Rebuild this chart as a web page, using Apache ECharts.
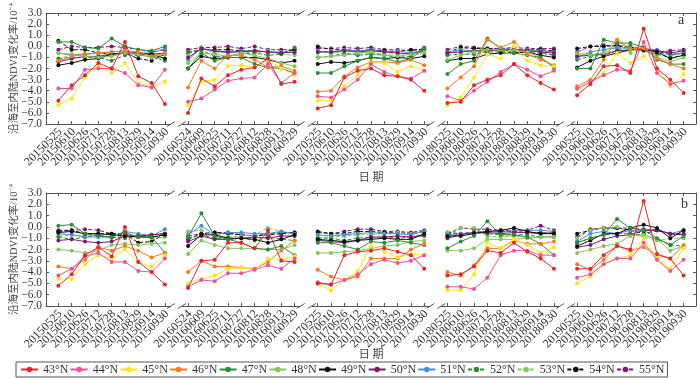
<!DOCTYPE html>
<html><head><meta charset="utf-8">
<script src="https://cdn.jsdelivr.net/npm/echarts@6/dist/echarts.min.js"></script>
<style>html,body{margin:0;padding:0;background:#fff}#c{width:700px;height:378px}</style>
</head><body><div id="c"></div>
<script>
// ---- tick labels (dates) ----
const d2015 = ['20150525','20150610','20150626','20150712','20150728','20150813','20150829','20150914','20150930'];
const d2016 = ['20160524','20160609','20160625','20160711','20160727','20160812','20160828','20160913','20160929'];
const d2017 = ['20170525','20170610','20170626','20170712','20170728','20170813','20170829','20170914','20170930'];
const d2018 = ['20180525','20180610','20180626','20180712','20180728','20180813','20180829','20180914','20180930'];
const d2019 = ['20190525','20190610','20190626','20190712','20190728','20190813','20190829','20190914','20190930'];
const latitudes = ['43°N','44°N','45°N','46°N','47°N','48°N','49°N','50°N','51°N','52°N','53°N','54°N','55°N'];
const yTicks = [-7, -6, -5, -4, -3, -2, -1, 0, 1, 2, 3];

// ---- panel a ----
const a43 = [-4.9,-3.5,-2.6,-1.5,-2.0,0.4,-2.7,-3.3,-5.2, -6.0,-2.9,-3.6,-2.6,-2.1,-1.9,-1.1,-3.4,-3.2, -5.6,-5.3,-2.8,-2.2,-2.0,-2.6,-2.7,-3.0,-4.0, -5.1,-5.0,-3.5,-3.0,-2.6,-1.6,-2.6,-3.3,-3.9, -4.4,-3.4,-1.8,-1.7,-2.4,1.6,-2.0,-3.0,-4.2];
const a44 = [-3.8,-3.8,-2.1,-2.0,-2.0,-2.4,-3.5,-3.7,-2.1, -5.0,-4.7,-3.9,-3.1,-2.9,-2.8,-1.6,-3.3,-2.4, -4.5,-4.6,-3.9,-3.0,-1.6,-2.3,-2.7,-2.9,-2.2, -4.5,-4.9,-4.0,-3.2,-2.3,-1.6,-2.1,-2.7,-2.2, -3.8,-3.2,-2.6,-2.1,-2.2,0.4,-2.4,-3.4,-3.1];
const a45 = [-5.3,-4.7,-2.8,-1.7,-2.4,-1.5,-3.3,-3.7,-3.2, -5.3,-3.2,-3.0,-1.8,-1.7,-1.9,-1.2,-2.0,-2.6, -4.9,-4.9,-3.6,-2.6,-1.5,-1.5,-2.3,-1.8,-2.2, -5.3,-4.6,-2.8,-0.7,-1.1,0.0,-1.3,-1.7,-1.8, -3.9,-3.2,-2.4,-0.6,-1.5,-0.9,-2.0,-3.6,-2.5];
const a46 = [-1.3,-0.9,-0.7,-0.6,-0.5,-0.4,-0.5,-0.9,-0.6, -3.7,-1.3,-2.0,-0.8,-0.8,-1.2,-1.9,-1.8,-2.2, -4.1,-4.0,-2.7,-1.9,-1.4,-1.4,-1.5,-1.2,-1.7, -3.8,-2.8,-1.8,0.6,-0.1,0.4,-0.7,-1.2,-1.7, -3.6,-3.0,-1.2,0.6,-0.2,-0.2,-1.1,-1.6,-2.0];
const a47 = [0.4,0.4,-0.1,-0.2,0.7,0.0,-0.3,-0.4,0.0, -2.0,-0.6,-1.3,-1.0,-1.0,-1.6,-1.9,-2.0,-2.4, -2.4,-2.4,-1.8,-1.3,-1.0,-1.1,-1.4,-1.1,-0.2, -2.5,-1.6,-1.3,0.7,-0.2,-0.6,-0.8,-1.0,-1.9, -2.0,-2.0,0.6,0.3,0.3,-0.1,-1.2,-1.6,-1.6];
const a48 = [-0.6,-0.7,-0.9,-1.0,-0.9,-0.6,-0.7,-1.0,-0.6, -1.5,-0.6,-0.7,-0.9,-0.6,-0.8,-1.1,-1.5,-1.8, -1.0,-0.9,-0.8,-0.6,-0.5,-0.8,-0.9,-0.7,-0.5, -1.2,-0.8,-0.5,-0.3,-0.3,-0.4,-0.5,-1.0,-1.8, -0.6,-0.8,-0.6,0.5,-0.4,-0.1,-1.0,-1.4,-1.0];
const a49 = [-1.7,-1.5,-1.2,-1.1,-0.7,-0.6,-0.7,-0.7,-1.1, -2.0,-0.9,-1.1,-1.0,-1.0,-1.0,-1.2,-1.5,-1.3, -1.6,-1.4,-1.5,-1.3,-1.0,-1.1,-1.0,-1.1,-0.9, -1.3,-1.1,-1.1,-0.7,-0.6,-0.6,-0.5,-0.8,-1.0, -1.9,-1.3,-0.9,-0.6,-0.3,-0.3,-0.5,-1.1,-0.8];
const a50 = [-1.4,-1.1,-0.9,-0.9,-0.7,-0.6,-0.6,-0.7,-0.6, -1.0,-0.2,-0.4,-0.5,-0.5,-0.4,-0.5,-0.6,-0.5, -0.5,-0.5,-0.4,-0.5,-0.4,-0.5,-0.6,-0.7,-0.4, -0.6,-0.5,-0.4,-0.4,-0.3,-0.3,-0.4,-0.5,-0.6, -0.9,-0.8,-0.7,-0.4,-0.3,-0.3,-0.4,-0.6,-0.4];
const a51 = [-0.6,-0.8,-0.7,-0.6,-0.5,-0.4,-0.6,-0.6,-0.2, -1.2,-0.2,-0.4,-0.6,-0.4,-0.4,-0.5,-0.5,-0.6, -0.4,-0.6,-0.3,-0.4,-0.3,-0.5,-0.4,-0.6,-0.3, -0.5,-0.3,-0.4,-0.3,-0.2,-0.3,-0.3,-0.4,-0.5, -1.0,-0.5,-0.3,-0.1,-0.2,-0.2,-0.3,-0.7,-0.6];
const a52 = [-1.1,-1.0,-1.0,-1.0,-1.3,-0.8,-0.8,-0.9,-1.3, -0.5,-0.3,-0.9,-0.9,-0.7,-0.6,-0.8,-0.7,-0.1, -1.0,-0.9,-0.6,-0.8,-0.7,-0.8,-1.0,-0.9,-0.1, -0.8,-0.7,-0.7,-0.5,-0.5,-0.5,-0.6,-0.6,-0.8, -1.2,-0.9,-0.8,-0.4,0.1,-0.4,-0.7,-1.0,-0.8];
const a53 = [-1.2,-0.7,-0.7,-0.6,-0.7,-0.6,-0.7,-1.0,-0.7, -0.7,-0.1,-0.6,-0.5,-0.5,-0.6,-0.4,-0.7,-0.8, -0.6,-0.4,-0.7,-0.6,-0.6,-0.7,-0.7,-0.6,-0.6, -0.6,-0.4,-0.5,-0.4,-0.4,-0.5,-0.4,-0.5,-0.8, -0.8,-0.7,-0.6,-0.1,-0.6,-0.4,-0.6,-0.8,-0.6];
const a54 = [0.5,-0.3,-0.3,-0.6,-0.7,-0.6,-1.1,-1.3,-0.7, -0.6,-0.3,-0.3,-0.3,-0.4,-0.4,-0.5,-0.6,-0.3, 0.0,-0.3,-0.3,-0.4,-0.3,-0.4,-0.5,-0.3,-0.3, -0.6,-0.1,-0.2,-0.2,-0.2,-0.3,-0.3,-0.3,-0.4, -0.2,0.0,0.0,0.1,-0.1,-0.3,-0.4,-0.8,-0.6];
const a55 = [-0.3,0.0,-0.1,-0.1,0.0,-0.1,-0.3,-0.5,-0.3, -0.3,-0.1,-0.1,0.0,-0.2,0.0,-0.3,-0.3,-0.3, -0.2,-0.2,-0.1,-0.2,-0.1,-0.3,-0.3,-0.4,-0.2, -0.3,0.0,-0.1,-0.2,-0.2,-0.1,-0.2,-0.2,-0.2, -0.5,0.0,0.1,0.0,-0.1,-0.2,-0.5,-0.4,-0.3];

// ---- panel b ----
const b43 = [-5.2,-4.2,-2.5,-1.8,-2.6,0.0,-3.1,-4.0,-5.1, -5.4,-3.0,-2.9,-1.4,-1.4,-1.9,-0.3,-3.0,-3.1, -5.0,-5.1,-2.5,-2.2,-2.1,-1.9,-2.2,-2.5,-3.7, -4.3,-4.2,-3.5,-2.1,-2.3,-1.4,-2.2,-2.8,-3.7, -3.7,-3.7,-2.5,-1.7,-2.0,2.3,-2.4,-2.8,-4.3];
const b44 = [-4.3,-3.7,-2.6,-2.3,-3.1,-3.1,-3.9,-4.0,-2.8, -5.3,-4.7,-4.8,-4.1,-4.1,-3.8,-3.4,-3.7,-2.8, -4.9,-5.1,-4.7,-4.2,-3.3,-2.9,-3.2,-3.0,-2.5, -5.3,-5.3,-5.5,-4.5,-2.5,-2.1,-2.1,-2.5,-2.5, -4.5,-4.2,-3.3,-2.8,-2.8,-1.4,-2.9,-3.9,-2.9];
const b45 = [-4.6,-4.6,-3.3,-2.5,-2.8,-2.0,-3.1,-3.5,-2.5, -5.0,-4.6,-4.3,-3.7,-3.6,-3.8,-2.8,-2.9,-2.6, -5.0,-5.6,-4.7,-3.9,-1.7,-2.2,-2.7,-2.4,-2.5, -5.6,-5.6,-4.2,-1.4,-1.9,-1.1,-1.6,-2.3,-1.8, -5.0,-4.4,-3.3,-2.8,-2.5,-1.0,-2.7,-3.7,-1.9];
const b46 = [-3.5,-3.7,-2.9,-1.8,-2.1,-1.7,-2.1,-2.7,-2.3, -4.0,-3.0,-3.5,-3.5,-3.6,-3.7,-3.1,-2.1,-1.2, -3.8,-4.4,-4.7,-4.4,-2.8,-2.8,-2.8,-2.0,-1.5, -4.0,-4.3,-3.4,-1.9,-1.9,-1.2,-1.5,-1.5,-1.3, -3.3,-3.8,-2.9,-1.7,-2.1,-1.8,-2.5,-2.8,-1.6];
const b47 = [0.1,0.2,-0.6,-0.8,-0.9,-0.5,-0.9,-0.9,-2.3, -0.9,1.2,-0.8,-1.1,-1.4,-1.9,-2.0,-1.7,-2.5, -1.4,-1.4,-1.7,-2.0,-1.3,-1.4,-1.2,-1.4,-1.6, -1.9,-1.3,-0.8,0.5,-0.7,-0.7,-0.9,-1.5,-2.5, -1.4,-1.0,-0.7,0.7,-0.1,-0.3,-1.0,-1.6,-0.8];
const b48 = [-2.0,-2.1,-2.3,-2.1,-1.6,-1.5,-1.6,-1.5,-1.4, -2.4,-1.2,-1.6,-1.9,-1.9,-1.9,-2.0,-2.0,-1.6, -2.3,-2.3,-2.2,-2.1,-1.9,-1.7,-1.6,-1.3,-1.2, -2.1,-2.1,-1.9,-1.1,-1.1,-1.1,-1.0,-0.9,-0.9, -2.3,-2.0,-1.7,-1.5,-0.8,-0.7,-1.1,-2.1,-1.7];
const b49 = [-0.5,-0.4,-0.6,-0.6,-0.7,-0.8,-0.9,-0.9,-0.7, -1.7,-0.7,-0.7,-1.0,-1.0,-1.1,-1.4,-1.1,-0.7, -1.1,-1.2,-1.3,-1.2,-1.1,-1.0,-1.1,-1.1,-0.6, -0.8,-0.8,-0.6,-0.4,-0.3,-0.1,-0.4,-0.6,-0.6, -1.7,-1.2,-0.6,-0.6,-0.1,0.2,-0.1,-1.0,-0.3];
const b50 = [-1.2,-1.1,-1.3,-1.4,-1.3,-0.8,-0.8,-0.7,-0.6, -1.3,-0.8,-1.1,-1.1,-1.0,-0.9,-1.0,-0.8,-0.8, -1.2,-1.3,-1.4,-1.2,-0.9,-0.9,-0.8,-0.9,-0.7, -1.0,-0.7,-0.5,-0.5,-0.6,-0.5,-0.5,-0.6,-0.5, -1.8,-1.6,-1.1,-0.8,-0.7,-0.3,-0.3,-0.6,-0.7];
const b51 = [-0.6,-0.7,-0.9,-0.9,-0.9,-0.4,-0.6,-0.8,-0.2, -0.7,0.1,-0.7,-0.5,-0.5,-0.6,-0.6,-0.4,-0.6, -0.7,-0.8,-0.7,-0.6,-0.5,-0.6,-0.6,-0.7,-0.4, -0.7,-0.6,-0.5,-0.4,-0.5,-0.3,-0.3,-0.3,-0.4, -1.3,-0.6,-0.4,-0.6,-0.3,-0.3,-0.2,-0.6,-0.3];
const b52 = [-0.9,-1.1,-0.9,-0.7,-0.9,-1.0,-0.8,-0.9,-0.7, -1.0,-0.7,-1.0,-1.1,-1.0,-1.2,-0.9,-1.1,-1.2, -1.0,-1.0,-1.2,-1.0,-0.9,-0.9,-1.0,-0.9,-0.8, -0.9,-0.6,-0.5,-0.6,-0.7,-0.7,-0.7,-0.9,-0.9, -1.4,-1.0,-0.7,-0.6,-0.6,-0.7,-1.1,-1.6,-1.7];
const b53 = [-0.8,-0.7,-0.8,-0.8,-1.0,-0.7,-0.8,-1.0,-0.9, -0.4,-0.3,-0.9,-0.9,-0.8,-0.7,-0.1,-0.4,-0.7, -0.9,-0.9,-0.8,-0.7,-0.7,-0.6,-0.5,-0.6,-0.4, -0.5,-0.1,-0.1,-0.8,-0.9,-0.8,-0.9,-0.9,-0.8, -1.0,-0.3,-0.1,0.0,-0.6,-0.9,-1.2,-1.0,-1.0];
const b54 = [-0.4,-0.3,-0.6,-0.6,-0.6,-0.6,-1.4,-1.3,-0.6, -1.1,-0.6,-0.5,-0.6,-0.7,-0.8,-0.7,-0.6,-0.5, -0.4,-0.6,-0.6,-0.4,-0.4,-0.5,-0.5,-0.6,-0.4, -0.5,-0.6,-0.5,-0.4,-0.4,-0.4,-0.5,-0.5,-0.6, -0.6,-0.3,-0.1,-0.1,-0.3,-0.6,-0.3,-0.6,-0.7];
const b55 = [-0.3,-0.3,-0.2,-0.3,-0.6,-0.7,-0.8,-0.7,-0.6, -0.8,-0.6,-0.5,-0.5,-0.7,-0.8,-0.6,-0.5,-0.5, -0.5,-0.6,-0.4,-0.2,-0.2,-0.4,-0.4,-0.5,-0.3, -0.7,-0.1,-0.2,-0.2,-0.3,-0.3,-0.3,0.1,-0.3, -0.9,-0.2,-0.1,-0.1,-0.1,-0.2,-0.3,-0.6,-0.6];

// ---- styles ----
const colors = ['#e8232b','#f0509a','#f7e81a','#f47b20','#2e8b36','#86c55a','#111111','#7a1c6c','#4a8fd6','#2e8b36','#86c55a','#111111','#7a1c6c'];
const dashed = [false,false,false,false,false,false,false,false,false,true,true,true,true];

const years = [d2015, d2016, d2017, d2018, d2019];
const panelA = [a43,a44,a45,a46,a47,a48,a49,a50,a51,a52,a53,a54,a55];
const panelB = [b43,b44,b45,b46,b47,b48,b49,b50,b51,b52,b53,b54,b55];

// x layout: each year occupies 9 unit steps, with a break between years
const OFF = 0.93, GS = 9.74;
const XMAX = OFF * 2 + GS * 4 + 8;
const xPos = (g, i) => OFF + g * GS + i;
const tickPos = [], tickLab = [];
years.forEach((ds, g) => ds.forEach((d, i) => { tickPos.push(xPos(g, i)); tickLab.push(d); }));

const serif = "'Liberation Serif','Times New Roman','Noto Sans CJK SC',serif";
const axisColor = '#555';
const labelColor = '#333';

function buildData(arr) {
  const out = [];
  for (let g = 0; g < years.length; g++) {
    for (let i = 0; i < 9; i++) out.push([xPos(g, i), arr[g * 9 + i]]);
    if (g < years.length - 1) out.push([xPos(g, 8) + GS / 2 - 0.5, '-']);
  }
  return out;
}

function xAxisDef(gridIndex, position, showName, nameGap) {
  return {
    type: 'value', gridIndex, position, min: 0, max: XMAX,
    axisLine: { show: true, onZero: false, lineStyle: { color: axisColor, width: 1 } },
    axisTick: { show: true, inside: true, length: 3, customValues: tickPos, lineStyle: { color: axisColor } },
    axisLabel: { show: false },
    splitLine: { show: false },
    name: showName ? '日 期' : '', nameLocation: 'middle', nameGap: nameGap || 47,
    nameTextStyle: { fontSize: 11, color: '#444', fontFamily: serif }
  };
}
function yAxisDef(gridIndex, position, showName) {
  return {
    type: 'value', gridIndex, position, min: -7, max: 3, interval: 1,
    axisLine: { show: true, onZero: false, lineStyle: { color: axisColor, width: 1 } },
    axisTick: { show: true, inside: true, length: 3, lineStyle: { color: axisColor } },
    axisLabel: { show: false },
    splitLine: { show: false },
    name: showName ? '{t|沿海至内陆NDVI变化率/10}{s|−4}' : '',
    nameLocation: 'middle', nameGap: 25,
    nameTextStyle: { color: '#444', fontFamily: serif,
      rich: { t: { fontSize: 10.5, fontFamily: serif, color: '#444', lineHeight: 13 },
              s: { fontSize: 7, fontFamily: serif, color: '#444', verticalAlign: 'top', lineHeight: 13 } } }
  };
}

const series = [];
[panelA, panelB].forEach((panel, p) => {
  panel.forEach((arr, k) => {
    series.push({
      type: 'line', name: latitudes[k], xAxisIndex: p * 2, yAxisIndex: p * 2,
      data: buildData(arr), symbol: 'circle', symbolSize: 4, showSymbol: true,
      connectNulls: false,
      lineStyle: { color: colors[k], width: 1, type: dashed[k] ? [4, 2] : 'solid' },
      itemStyle: { color: colors[k] },
      z: 20 - k
    });
  });
});

const chart = echarts.init(document.getElementById('c'), null, { renderer: 'canvas' });
chart.setOption({
  animation: false,
  backgroundColor: '#fff',
  grid: [
    { left: 37, right: 4, top: 7.5, height: 116.5 },
    { left: 37, right: 4, top: 193, height: 113 }
  ],
  xAxis: [xAxisDef(0, 'bottom', true, 49), xAxisDef(0, 'top', false), xAxisDef(1, 'bottom', true, 44), xAxisDef(1, 'top', false)],
  yAxis: [yAxisDef(0, 'left', true), yAxisDef(0, 'right', false), yAxisDef(1, 'left', true), yAxisDef(1, 'right', false)],
  legend: {
    data: latitudes, left: 16, top: 362, right: 2, orient: 'horizontal',
    itemWidth: 17, itemHeight: 7, itemGap: 1.2,
    borderColor: '#555', borderWidth: 1, padding: [1, 3, 1, 4],
    textStyle: { fontSize: 12, fontFamily: serif, color: '#333', lineHeight: 13 }
  },
  series
});

// tick labels, break marks on the horizontal frame lines, panel letters
const gfx = [];
const yFmt = (v) => (v < 0 ? '−' + Math.abs(v).toFixed(1) : v.toFixed(1));
[0, 1].forEach((p) => {
  const yb = chart.convertToPixel({ yAxisIndex: p * 2 }, -7);
  const yt = chart.convertToPixel({ yAxisIndex: p * 2 }, 3);
  const xl = chart.convertToPixel({ xAxisIndex: p * 2 }, 0);
  // y tick labels
  yTicks.forEach((v) => {
    const py = chart.convertToPixel({ yAxisIndex: p * 2 }, v);
    gfx.push({ type: 'text', z: 102, x: xl - 4, y: py,
      style: { text: yFmt(v), fontSize: 11.5, fontFamily: serif, fill: labelColor, align: 'right', verticalAlign: 'middle' } });
  });
  // x tick labels (rotated 45°)
  tickPos.forEach((xv, k) => {
    const px = chart.convertToPixel({ xAxisIndex: p * 2 }, xv);
    gfx.push({ type: 'text', z: 102, x: px + 2, y: yb + 6, rotation: Math.PI / 4,
      style: { text: tickLab[k], fontSize: 12, fontFamily: serif, fill: labelColor, align: 'right', verticalAlign: 'middle' } });
  });
  // breaks
  for (let g = 0; g < years.length - 1; g++) {
    const mid = chart.convertToPixel({ xAxisIndex: p * 2 }, (xPos(g, 8) + xPos(g + 1, 0)) / 2);
    [yb, yt].forEach((yy) => {
      gfx.push({ type: 'rect', z: 100, shape: { x: mid - 5.5, y: yy - 2.5, width: 11, height: 5 }, style: { fill: '#fff' } });
      [-5.5, 5.5].forEach((dx) => {
        gfx.push({ type: 'line', z: 101, shape: { x1: mid + dx - 4, y1: yy + 2.5, x2: mid + dx + 4, y2: yy - 2.5 },
          style: { stroke: axisColor, lineWidth: 1 } });
      });
    });
  }
});
gfx.push({ type: 'text', z: 102, left: 678, top: 13, style: { text: 'a', fontSize: 14, fontFamily: serif, fill: '#333' } });
gfx.push({ type: 'text', z: 102, left: 681, top: 197, style: { text: 'b', fontSize: 14, fontFamily: serif, fill: '#333' } });
chart.setOption({ graphic: gfx });
</script>
</body></html>
